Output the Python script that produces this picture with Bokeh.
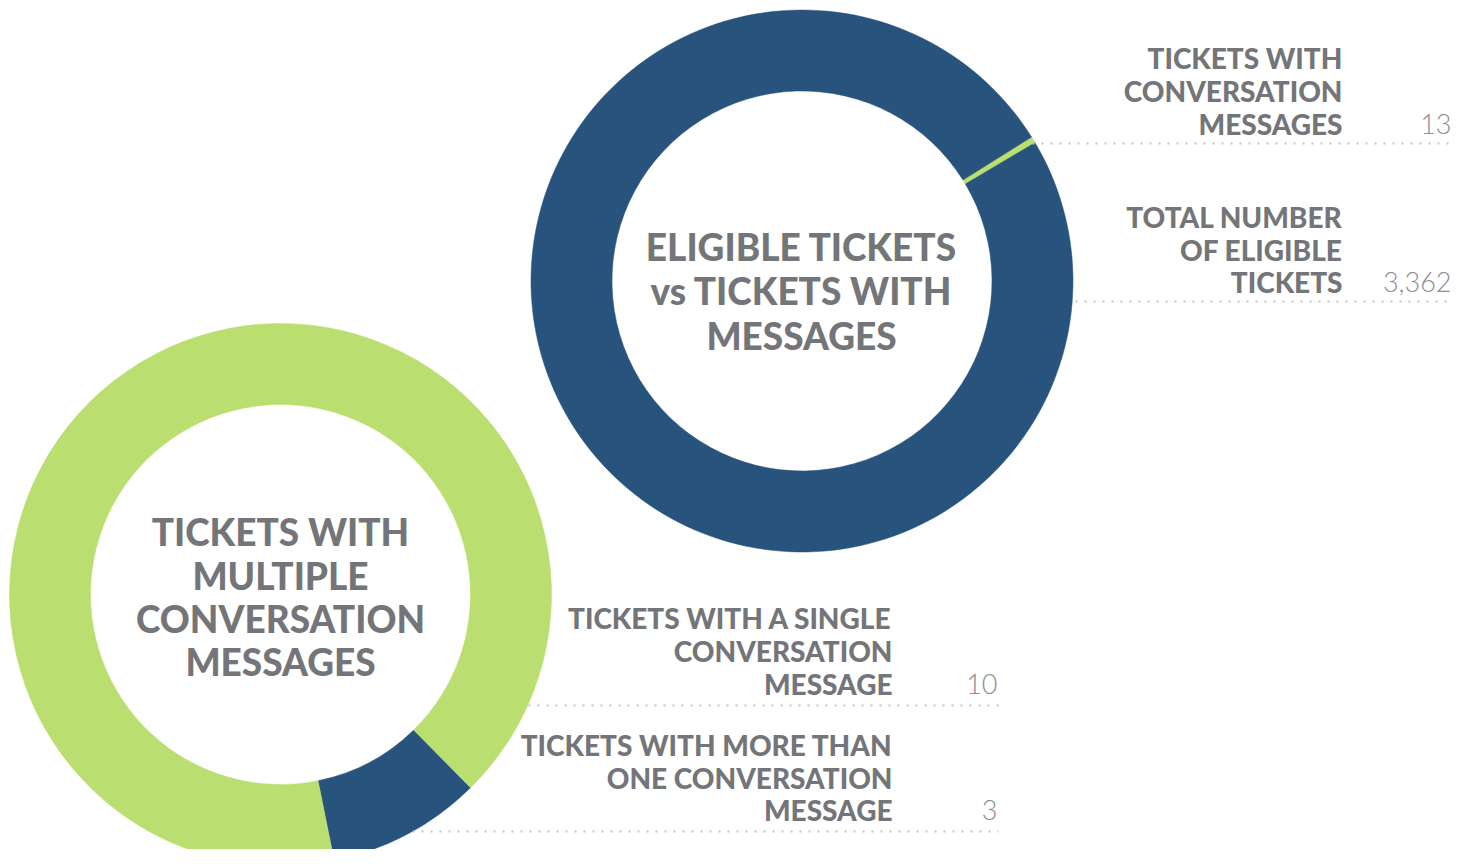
from bokeh.plotting import figure
from bokeh.models import Range1d, ColumnDataSource
from bokeh.core.properties import value
from bokeh.embed import file_html
from bokeh.resources import INLINE
import numpy as np

# ---------------- data ----------------
top_title = ["ELIGIBLE TICKETS", "vs TICKETS WITH", "MESSAGES"]
top_labels = [["TICKETS WITH", "CONVERSATION", "MESSAGES"],
              ["TOTAL NUMBER", "OF ELIGIBLE", "TICKETS"]]
top_values = [13, 3362]
top_colors = ["#BADE70", "#27537D"]

bottom_title = ["TICKETS WITH", "MULTIPLE", "CONVERSATION", "MESSAGES"]
bottom_labels = [["TICKETS WITH A SINGLE", "CONVERSATION", "MESSAGE"],
                 ["TICKETS WITH MORE THAN", "ONE CONVERSATION", "MESSAGE"]]
bottom_values = [10, 3]
# arc shares (%) as drawn in the picture (not proportional to the counts)
bottom_arc_pct = [90.8, 9.2]
bottom_colors = ["#BADE70", "#27537D"]

# ---------------- layout ----------------
W, H = 1454, 849
IMG_H = 865
def Y(yi):
    return IMG_H - yi

TITLE_C = "#737578"
VALUE_C = "#8C8D90"
DOT_C = "#C4C4C4"
LBL_FONT = value("'Lato Black', Lato")
VAL_FONT = value("'Lato Light', Lato")

p = figure(width=W, height=H, output_backend="svg", toolbar_location=None,
           x_range=Range1d(0, W), y_range=Range1d(Y(H), Y(0)),
           x_axis_type=None, y_axis_type=None, min_border=0)
p.outline_line_color = None
p.grid.visible = False
p.background_fill_color = "white"


def donut(cx, cy, vals, colors, start_deg, order):
    vals = np.asarray(vals, dtype=float)
    v = vals[order]
    c = [colors[i] for i in order]
    ang = np.cumsum(np.concatenate([[0], v])) / v.sum() * 2 * np.pi + np.deg2rad(start_deg)
    src = ColumnDataSource(dict(s=ang[:-1], e=ang[1:], c=c))
    p.annular_wedge(x=cx, y=cy, inner_radius=190, outer_radius=271,
                    start_angle="s", end_angle="e", fill_color="c",
                    line_color="c", line_width=0.5, source=src)


# top donut: green thin slice at ~31 deg
donut(801.5, Y(280.5), top_values, top_colors, 30.7, [0, 1])
# bottom donut: blue slice from -78.6 to -45.6 deg
donut(280, Y(594), bottom_arc_pct, bottom_colors, -78.6, [1, 0])


def lines(x, ys, texts, size, color, align, font, style):
    p.text(x=[x] * len(texts), y=[Y(b) for b in ys], text=texts,
           text_font=font, text_font_style=style, text_font_size=size,
           text_color=color, text_align=align, text_baseline="alphabetic")


# titles
lines(801, [246, 290, 335], top_title, "37px", TITLE_C, "center", LBL_FONT, "bold")
lines(280, [531, 575, 618, 661], bottom_title, "37px", TITLE_C, "center", LBL_FONT, "bold")

# top labels
top_base = [[57, 90, 123], [216, 249, 281]]
for lab, base, v in zip(top_labels, top_base, top_values):
    lines(1342, base, lab, "28px", TITLE_C, "right", LBL_FONT, "bold")
    lines(1451, [base[-1]], [f"{v:,}"], "27px", VALUE_C, "right", VAL_FONT, "normal")

bot_base = [[617, 650, 683], [744, 777, 809]]
for lab, base, v in zip(bottom_labels, bot_base, bottom_values):
    lines(892, base, lab, "28px", TITLE_C, "right", LBL_FONT, "bold")
    lines(997, [base[-1]], [f"{v:,}"], "27px", VALUE_C, "right", VAL_FONT, "normal")

# dotted leader lines
seg_x0 = [1032, 1075, 528, 412]
seg_x1 = [1452, 1452, 998, 998]
seg_y = [143, 301, 705, 831]
p.segment(x0=seg_x0, x1=seg_x1, y0=[Y(v) for v in seg_y], y1=[Y(v) for v in seg_y],
          line_color=DOT_C, line_width=2, line_dash="2 7")

open("out.html", "w").write(file_html(p, INLINE))
